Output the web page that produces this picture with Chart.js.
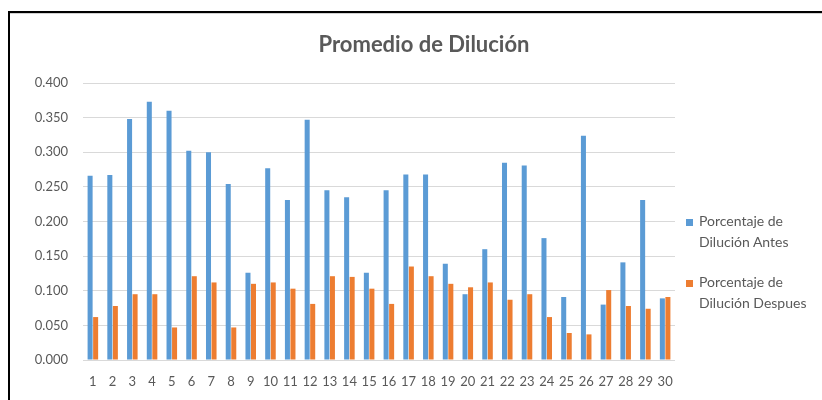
<!DOCTYPE html>
<html lang="es">
<head>
    <meta charset="UTF-8">
    <title>Promedio de Dilución</title>
    <script src="https://cdn.jsdelivr.net/npm/chart.js"></script>
    <style>
        html, body { margin: 0; padding: 0; background: #fff; overflow: hidden; }
        #wrap { position: relative; width: 822px; height: 400px; font-family: Lato, "Open Sans", sans-serif; color: #595959; }
        #grafico { position: absolute; left: 0; top: 0; }
        #marco {
            position: absolute; left: 8px; top: 11px; width: 900px; height: 500px;
            border-left: 2px solid #000; border-top: 2px solid #000;
            box-shadow: inset 0 1px 0 #d0d0d0; pointer-events: none;
        }
        #titulo {
            position: absolute; left: 0; width: 848px; top: 30px; text-align: center;
            font-size: 22px; font-weight: bold; color: #595959;
        }
        .leyenda { position: absolute; left: 686px; font-size: 14px; line-height: 21px; }
        .leyenda span { display: inline-block; width: 7px; height: 7px; margin-right: 6px; }
        .leyenda div { padding-left: 13px; }
    </style>
</head>
<body>
<div id="wrap">
    <canvas id="grafico" width="822" height="400"></canvas>
    <div id="marco"></div>
    <div id="titulo">Promedio de Dilución</div>
    <div id="leyenda"></div>
</div>

<script>
// Muestras 1..30
const muestras = Array.from({length: 30}, (_, i) => String(i + 1));

const dilucionAntes = [
    0.266, 0.267, 0.348, 0.373, 0.360, 0.302, 0.300, 0.254, 0.126, 0.277,
    0.231, 0.347, 0.245, 0.235, 0.126, 0.245, 0.268, 0.268, 0.139, 0.095,
    0.160, 0.285, 0.281, 0.176, 0.091, 0.324, 0.080, 0.141, 0.231, 0.089
];

const dilucionDespues = [
    0.062, 0.078, 0.095, 0.095, 0.047, 0.121, 0.112, 0.047, 0.110, 0.112,
    0.103, 0.081, 0.121, 0.120, 0.103, 0.081, 0.135, 0.121, 0.110, 0.105,
    0.112, 0.087, 0.095, 0.062, 0.039, 0.037, 0.101, 0.078, 0.074, 0.091
];

const nombresSeries = [['Porcentaje de', 'Dilución Antes'], ['Porcentaje de', 'Dilución Despues']];
const colores = ['#5B9BD5', '#ED7D31'];

const fuente = {family: 'Lato, "Open Sans", sans-serif', size: 13};

new Chart(document.getElementById('grafico'), {
    type: 'bar',
    data: {
        labels: muestras,
        datasets: [
            {label: nombresSeries[0].join(' '), data: dilucionAntes, backgroundColor: colores[0]},
            {label: nombresSeries[1].join(' '), data: dilucionDespues, backgroundColor: colores[1]}
        ]
    },
    options: {
        responsive: false,
        animation: false,
        layout: {padding: {top: 83, right: 147, bottom: 0, left: 0}},
        datasets: {bar: {categoryPercentage: 0.56, barPercentage: 0.91, borderWidth: 0}},
        plugins: {
            legend: {display: false},
            title: {display: false},
            tooltip: {enabled: false}
        },
        scales: {
            x: {
                grid: {display: false, drawTicks: false},
                border: {display: false},
                ticks: {color: '#595959', font: fuente, padding: 14, maxRotation: 0, autoSkip: false},
                afterFit: s => { s.height = 40; }
            },
            y: {
                min: 0,
                max: 0.4,
                grid: {color: '#d9d9d9', lineWidth: 1, drawTicks: false},
                border: {display: false},
                ticks: {
                    stepSize: 0.05,
                    color: '#595959',
                    font: fuente,
                    padding: 15,
                    callback: v => v.toFixed(3)
                },
                afterFit: s => { s.width = 83; }
            }
        }
    }
});

// leyenda a la derecha, cada nombre en dos líneas
const leyenda = document.getElementById('leyenda');
const topes = [210, 271];
nombresSeries.forEach((lineas, i) => {
    const item = document.createElement('div');
    item.className = 'leyenda';
    item.style.top = topes[i] + 'px';
    item.innerHTML = '<span style="background:' + colores[i] + '"></span>' + lineas[0] +
        '<div>' + lineas[1] + '</div>';
    leyenda.appendChild(item);
});
</script>
</body>
</html>
